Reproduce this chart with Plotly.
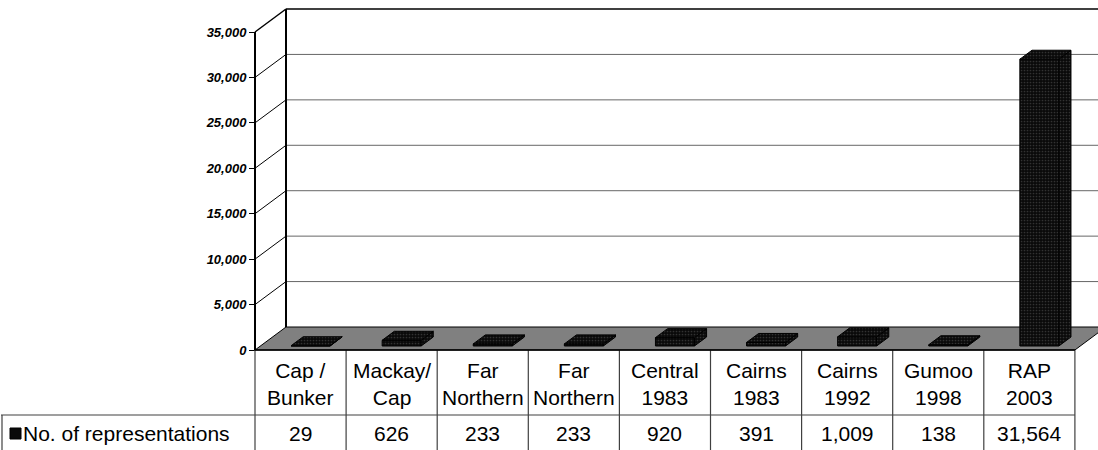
import plotly.graph_objects as go

# ---------------- data ----------------
category_line1 = ["Cap /", "Mackay/", "Far", "Far", "Central", "Cairns", "Cairns", "Gumoo", "RAP"]
category_line2 = ["Bunker", "Cap", "Northern", "Northern", "1983", "1983", "1992", "1998", "2003"]
values = [29, 626, 233, 233, 920, 391, 1009, 138, 31564]
series_name = "No. of representations"
y_ticks = [0, 5000, 10000, 15000, 20000, 25000, 30000, 35000]
y_tick_labels = ["0", "5,000", "10,000", "15,000", "20,000", "25,000", "30,000", "35,000"]

# ---------------- geometry (pixel layout helpers) ----------------
W, H = 1098, 450
COL_PX = 91.1            # px per category column
LEFT_PX = 255            # px of front-left axis
ZERO_PY = 350            # px of value 0 on the front plane
YMAX = y_ticks[-1]
YU = (ZERO_PY - 32) / YMAX   # px per value unit


def xd(px):
    return (px - LEFT_PX) / COL_PX - 0.5


def yd(py):
    return (ZERO_PY - py) / YU


DX = 31 / COL_PX         # depth offset (x) in data units
DY = 23 / YU             # depth offset (y) in data units
F0, F1 = 4 / 23, 13 / 23 # bar depth span (fraction)
BW = 39 / COL_PX         # bar width
SHIFT = 10 / COL_PX - F0 * DX

n = len(values)
X_L, X_R = -0.5, n - 0.5
FONT = "Liberation Sans, Arial, sans-serif"
TXT = 21

fig = go.Figure()
shapes = []
annotations = []

# floor
shapes.append(dict(type="path", layer="below",
                   path=f"M{X_L},0 L{X_R},0 L{X_R+DX},{DY} L{X_L+DX},{DY} Z",
                   fillcolor="#808080", line=dict(color="black", width=1)))
# back wall gridlines
for t in y_ticks[1:-1]:
    shapes.append(dict(type="line", layer="below", x0=X_L + DX, x1=X_R + DX, y0=t + DY, y1=t + DY,
                       line=dict(color="#666666", width=1)))
# top edge of back wall
shapes.append(dict(type="line", layer="below", x0=X_L + DX, x1=X_R + DX, y0=YMAX + DY, y1=YMAX + DY,
                   line=dict(color="black", width=1.5)))
# side-wall diagonals
for t in y_ticks[1:]:
    shapes.append(dict(type="line", layer="below", x0=X_L, x1=X_L + DX, y0=t, y1=t + DY,
                       line=dict(color="black", width=1 if t < YMAX else 1.5)))
# back wall vertical edge
shapes.append(dict(type="line", layer="below", x0=X_L + DX, x1=X_L + DX, y0=DY, y1=YMAX + DY,
                   line=dict(color="black", width=2)))
# front axis line
shapes.append(dict(type="line", layer="below", x0=X_L, x1=X_L, y0=0, y1=YMAX,
                   line=dict(color="black", width=2)))

# ---------------- 3D bars ----------------
pattern = dict(shape=".", fgcolor="#5a5a5a", bgcolor="#0a0a0a", size=3, solidity=0.25)
for i, v in enumerate(values):
    c = i + SHIFT
    xl0, xr0 = c - BW / 2 + F0 * DX, c + BW / 2 + F0 * DX
    xl1, xr1 = c - BW / 2 + F1 * DX, c + BW / 2 + F1 * DX
    yb0, yb1 = F0 * DY, F1 * DY
    faces = [
        ([xl0, xr0, xr0, xl0, xl0], [yb0, yb0, v + yb0, v + yb0, yb0]),          # front
        ([xr0, xr1, xr1, xr0, xr0], [yb0, yb1, v + yb1, v + yb0, yb0]),          # side
        ([xl0, xr0, xr1, xl1, xl0], [v + yb0, v + yb0, v + yb1, v + yb1, v + yb0]),  # top
    ]
    for fx, fy in faces:
        fig.add_trace(go.Scatter(x=fx, y=fy, mode="lines", fill="toself",
                                 fillcolor="#0a0a0a", fillpattern=pattern,
                                 line=dict(color="black", width=1),
                                 hoverinfo="skip", showlegend=False))

# ---------------- data table ----------------
ROW1_TOP, ROW2_TOP = 350, 415
line_col = "#404040"
for k in range(n + 1):
    shapes.append(dict(type="line", x0=X_L + k, x1=X_L + k, y0=yd(ROW1_TOP), y1=yd(H),
                       line=dict(color=line_col, width=1.2)))
shapes.append(dict(type="line", x0=xd(1), x1=X_R, y0=yd(ROW2_TOP), y1=yd(ROW2_TOP),
                   line=dict(color=line_col, width=1.2)))
shapes.append(dict(type="line", x0=xd(2), x1=xd(2), y0=yd(ROW2_TOP), y1=yd(H),
                   line=dict(color=line_col, width=1.2)))
# floor front edge (table top)
shapes.append(dict(type="line", x0=X_L, x1=X_R, y0=0, y1=0, line=dict(color="black", width=1.5)))

for i in range(n):
    annotations.append(dict(x=i, y=yd(384), xref="x", yref="y", showarrow=False,
                            text=f"{category_line1[i]}<br>{category_line2[i]}",
                            font=dict(family=FONT, size=TXT, color="black"),
                            xanchor="center", yanchor="middle", align="center"))
    annotations.append(dict(x=i, y=yd(433), xref="x", yref="y", showarrow=False,
                            text=f"{values[i]:,}",
                            font=dict(family=FONT, size=TXT, color="black"),
                            xanchor="center", yanchor="middle"))

# legend key
shapes.append(dict(type="rect", x0=xd(10), x1=xd(21), y0=yd(439), y1=yd(428),
                   fillcolor="#0a0a0a", line=dict(color="black", width=1)))
annotations.append(dict(x=xd(21), y=yd(433), xref="x", yref="y", showarrow=False,
                        text=series_name, font=dict(family=FONT, size=TXT, color="black"),
                        xanchor="left", yanchor="middle"))

fig.update_layout(
    width=W, height=H,
    margin=dict(l=0, r=0, t=0, b=0),
    paper_bgcolor="white", plot_bgcolor="white",
    showlegend=False,
    shapes=shapes, annotations=annotations,
    xaxis=dict(range=[xd(0), xd(W)], visible=False, fixedrange=True),
    yaxis=dict(range=[yd(H), yd(0)], anchor="free", position=LEFT_PX / W,
               tickvals=y_ticks, ticktext=y_tick_labels, ticks="outside", ticklen=6,
               tickcolor="black", tickwidth=1.2, showgrid=False, zeroline=False, showline=False,
               tickfont=dict(family=FONT, size=13, color="black", weight="bold", style="italic"),
               fixedrange=True),
)

fig.write_html("out.html", config={"displayModeBar": False},
               post_script="document.body.style.margin='0';document.body.style.overflow='hidden';")
